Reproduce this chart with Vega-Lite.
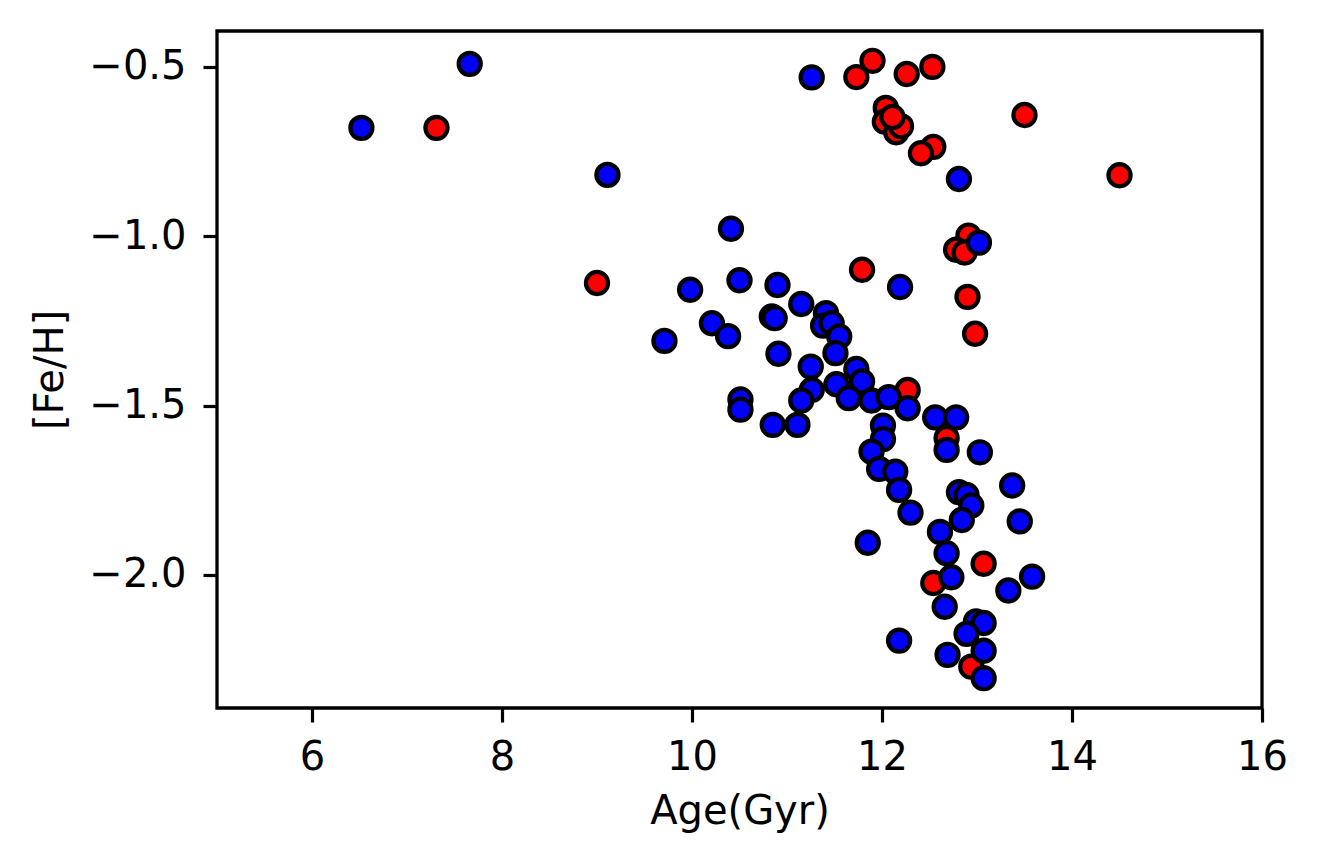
{
  "$schema": "https://vega.github.io/schema/vega-lite/v6.json",
  "autosize": "none",
  "width": 1045,
  "height": 677,
  "padding": {"left": 217, "top": 31, "right": 57, "bottom": 157},
  "background": "white",
  "config": {
    "view": {"stroke": "black", "strokeWidth": 3.3},
    "axis": {
      "domain": false,
      "grid": false,
      "ticks": true,
      "tickColor": "black",
      "tickWidth": 3.2,
      "tickSize": 14,
      "labelFont": "DejaVu Sans",
      "labelFontSize": 40,
      "labelColor": "black",
      "titleFont": "DejaVu Sans",
      "titleFontSize": 40,
      "titleFontWeight": "normal",
      "titleColor": "black"
    }
  },
  "data": {
    "values": [
      {"age": 7.31, "feh": -0.68, "group": "red"},
      {"age": 9.00, "feh": -1.138, "group": "red"},
      {"age": 11.90, "feh": -0.482, "group": "red"},
      {"age": 11.73, "feh": -0.530, "group": "red"},
      {"age": 12.26, "feh": -0.521, "group": "red"},
      {"age": 12.53, "feh": -0.500, "group": "red"},
      {"age": 12.04, "feh": -0.621, "group": "red"},
      {"age": 12.03, "feh": -0.662, "group": "red"},
      {"age": 12.15, "feh": -0.693, "group": "red"},
      {"age": 12.20, "feh": -0.675, "group": "red"},
      {"age": 12.11, "feh": -0.648, "group": "red"},
      {"age": 12.54, "feh": -0.736, "group": "red"},
      {"age": 12.41, "feh": -0.755, "group": "red"},
      {"age": 13.50, "feh": -0.642, "group": "red"},
      {"age": 14.50, "feh": -0.820, "group": "red"},
      {"age": 12.91, "feh": -0.998, "group": "red"},
      {"age": 12.78, "feh": -1.040, "group": "red"},
      {"age": 12.87, "feh": -1.048, "group": "red"},
      {"age": 11.79, "feh": -1.099, "group": "red"},
      {"age": 12.90, "feh": -1.179, "group": "red"},
      {"age": 12.98, "feh": -1.288, "group": "red"},
      {"age": 12.27, "feh": -1.454, "group": "red"},
      {"age": 12.68, "feh": -1.596, "group": "red"},
      {"age": 13.07, "feh": -1.967, "group": "red"},
      {"age": 12.54, "feh": -2.024, "group": "red"},
      {"age": 12.94, "feh": -2.271, "group": "red"},
      {"age": 6.52, "feh": -0.680, "group": "blue"},
      {"age": 7.66, "feh": -0.491, "group": "blue"},
      {"age": 9.11, "feh": -0.819, "group": "blue"},
      {"age": 10.41, "feh": -0.978, "group": "blue"},
      {"age": 10.50, "feh": -1.130, "group": "blue"},
      {"age": 9.98, "feh": -1.158, "group": "blue"},
      {"age": 9.71, "feh": -1.309, "group": "blue"},
      {"age": 10.21, "feh": -1.257, "group": "blue"},
      {"age": 10.38, "feh": -1.295, "group": "blue"},
      {"age": 10.51, "feh": -1.482, "group": "blue"},
      {"age": 10.51, "feh": -1.512, "group": "blue"},
      {"age": 10.85, "feh": -1.557, "group": "blue"},
      {"age": 11.11, "feh": -1.557, "group": "blue"},
      {"age": 11.26, "feh": -0.531, "group": "blue"},
      {"age": 12.81, "feh": -0.831, "group": "blue"},
      {"age": 13.02, "feh": -1.019, "group": "blue"},
      {"age": 12.19, "feh": -1.150, "group": "blue"},
      {"age": 10.90, "feh": -1.144, "group": "blue"},
      {"age": 11.15, "feh": -1.200, "group": "blue"},
      {"age": 10.84, "feh": -1.237, "group": "blue"},
      {"age": 10.87, "feh": -1.242, "group": "blue"},
      {"age": 11.41, "feh": -1.227, "group": "blue"},
      {"age": 11.38, "feh": -1.264, "group": "blue"},
      {"age": 11.47, "feh": -1.257, "group": "blue"},
      {"age": 11.55, "feh": -1.296, "group": "blue"},
      {"age": 10.91, "feh": -1.347, "group": "blue"},
      {"age": 11.51, "feh": -1.345, "group": "blue"},
      {"age": 11.25, "feh": -1.385, "group": "blue"},
      {"age": 11.73, "feh": -1.392, "group": "blue"},
      {"age": 11.79, "feh": -1.429, "group": "blue"},
      {"age": 11.52, "feh": -1.437, "group": "blue"},
      {"age": 11.26, "feh": -1.454, "group": "blue"},
      {"age": 11.15, "feh": -1.485, "group": "blue"},
      {"age": 11.65, "feh": -1.478, "group": "blue"},
      {"age": 11.89, "feh": -1.485, "group": "blue"},
      {"age": 12.07, "feh": -1.475, "group": "blue"},
      {"age": 12.27, "feh": -1.508, "group": "blue"},
      {"age": 12.01, "feh": -1.559, "group": "blue"},
      {"age": 12.01, "feh": -1.599, "group": "blue"},
      {"age": 11.89, "feh": -1.636, "group": "blue"},
      {"age": 11.97, "feh": -1.687, "group": "blue"},
      {"age": 12.14, "feh": -1.695, "group": "blue"},
      {"age": 12.18, "feh": -1.749, "group": "blue"},
      {"age": 12.30, "feh": -1.816, "group": "blue"},
      {"age": 12.56, "feh": -1.535, "group": "blue"},
      {"age": 12.78, "feh": -1.535, "group": "blue"},
      {"age": 12.68, "feh": -1.631, "group": "blue"},
      {"age": 13.03, "feh": -1.638, "group": "blue"},
      {"age": 13.37, "feh": -1.736, "group": "blue"},
      {"age": 12.81, "feh": -1.756, "group": "blue"},
      {"age": 12.89, "feh": -1.764, "group": "blue"},
      {"age": 12.94, "feh": -1.795, "group": "blue"},
      {"age": 12.84, "feh": -1.838, "group": "blue"},
      {"age": 13.45, "feh": -1.842, "group": "blue"},
      {"age": 12.61, "feh": -1.873, "group": "blue"},
      {"age": 11.85, "feh": -1.905, "group": "blue"},
      {"age": 12.68, "feh": -1.936, "group": "blue"},
      {"age": 12.73, "feh": -2.007, "group": "blue"},
      {"age": 13.33, "feh": -2.046, "group": "blue"},
      {"age": 13.58, "feh": -2.005, "group": "blue"},
      {"age": 12.66, "feh": -2.094, "group": "blue"},
      {"age": 12.99, "feh": -2.137, "group": "blue"},
      {"age": 13.07, "feh": -2.142, "group": "blue"},
      {"age": 12.89, "feh": -2.174, "group": "blue"},
      {"age": 12.18, "feh": -2.194, "group": "blue"},
      {"age": 12.69, "feh": -2.236, "group": "blue"},
      {"age": 13.07, "feh": -2.224, "group": "blue"},
      {"age": 13.07, "feh": -2.305, "group": "blue"}
    ]
  },
  "mark": {"type": "point", "shape": "circle", "filled": true, "opacity": 1, "size": 490, "stroke": "black", "strokeWidth": 4.2},
  "encoding": {
    "x": {
      "field": "age", "type": "quantitative",
      "scale": {"domain": [5, 16], "nice": false, "zero": false},
      "axis": {"title": "Age(Gyr)", "values": [6, 8, 10, 12, 14, 16], "format": "d", "labelPadding": 15, "titlePadding": 14, "labelFlush": false}
    },
    "y": {
      "field": "feh", "type": "quantitative",
      "scale": {"domain": [-2.393, -0.394], "nice": false, "zero": false},
      "axis": {"title": "[Fe/H]", "values": [-2.0, -1.5, -1.0, -0.5], "format": ".1f", "labelPadding": 17, "titlePadding": 18, "labelFlush": false}
    },
    "color": {
      "field": "group", "type": "nominal",
      "scale": {"domain": ["red", "blue"], "range": ["#ff0000", "#0000ff"]},
      "legend": null
    }
  }
}
